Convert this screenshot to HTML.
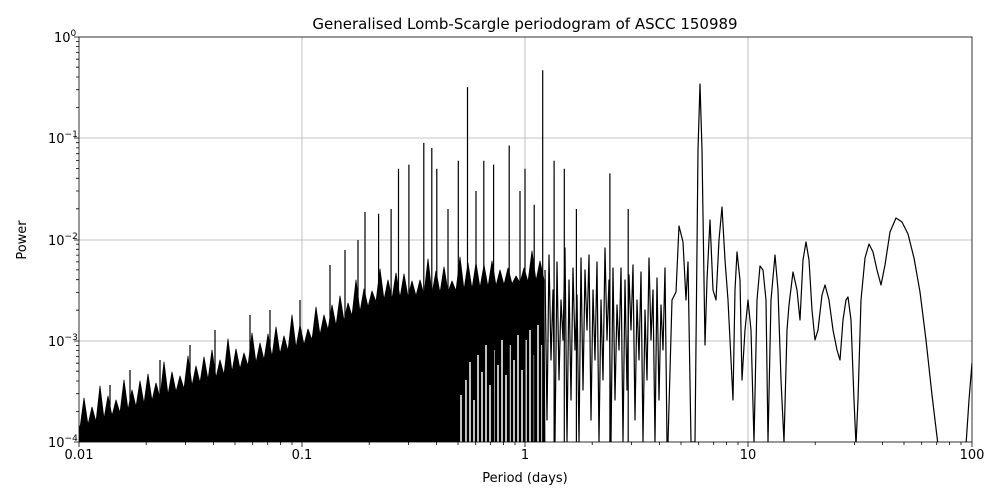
<!DOCTYPE html>
<html><head><meta charset="utf-8"><style>
body{margin:0;background:#fff;}
svg{display:block;font-family:"DejaVu Sans","Liberation Sans",sans-serif;}
</style></head><body>
<svg width="1000" height="500" viewBox="0 0 1000 500" xmlns="http://www.w3.org/2000/svg">
<defs><clipPath id="c"><rect x="79" y="37" width="893" height="405"/></clipPath></defs>
<rect width="1000" height="500" fill="#fff"/>
<g stroke="#b0b0b0" stroke-width="0.8">
<line x1="302" y1="37" x2="302" y2="442"/><line x1="525" y1="37" x2="525" y2="442"/><line x1="748" y1="37" x2="748" y2="442"/>
<line x1="79" y1="138" x2="972" y2="138"/><line x1="79" y1="240" x2="972" y2="240"/><line x1="79" y1="341" x2="972" y2="341"/>
</g>
<g clip-path="url(#c)" stroke="#000" stroke-width="1.2" stroke-linejoin="round">
<polygon fill="#000" stroke-width="0.8" points="79,442 79,425 80,428 84,398 88,425 92,407 96,422 100,386 104,419 108,396 112,416 116,400 120,413 124,380 128,410 132,390 136,407 140,381 144,404 148,374 152,401 156,383 160,398 164,362 168,395 172,372 176,392 180,376 184,389 188,356 192,386 196,366 200,383 204,357 208,380 212,350 216,378 220,360 224,375 228,339 232,372 236,349 240,369 244,353 248,366 252,333 256,363 260,343 264,360 268,334 272,357 276,327 280,354 284,336 288,351 292,315 296,348 300,325 304,345 308,329 312,340 316,307 320,335 324,315 328,330 332,305 336,326 340,296 344,321 348,303 352,316 356,280 360,312 364,289 368,307 372,291 376,302 380,269 384,300 388,280 392,299 396,273 400,298 404,274 408,297 412,281 416,296 420,280 424,295 428,259 432,294 436,271 440,293 444,267 448,292 452,281 456,291 460,257 464,290 468,263 472,289 476,263 480,288 484,265 488,287 492,261 496,286 500,270 504,285 508,268 512,284 516,276 520,283 524,268 528,282 532,251 536,281 540,261 544,280 545,442"/>
<path fill="none" stroke="#fff" stroke-width="1.5" d="M461 442V395M466 442V380M470 442V362M474 442V400M478 442V355M482 442V372M486 442V345M490 442V385M494 442V350M498 442V365M502 442V340M506 442V375M510 442V345M514 442V360M518 442V335M522 442V370M526 442V340M530 442V330M534 442V355M538 442V325M542 442V345"/>
<polyline fill="none" points="545,270 547,420 549,255 551,360 553,290 555,442 557,262 559,380 561,300 563,340 565,248 567,442 569,280 571,400 573,268 575,350 577,295 579,442 581,258 583,390 585,270 587,330 589,255 591,420 593,290 595,360 597,262 599,442 601,300 603,380 605,248 607,340 609,280 611,442 613,268 615,400 617,305 619,350 621,268 623,442 625,280 627,390 629,275 631,330 633,265 635,420 637,300 639,360 641,272 643,442 645,310 647,380 649,258 651,340 653,290 655,442 657,278 659,400 661,305 663,350 665,268 667,442"/>
<path fill="none" d="M378.6 442V213.7M391.1 442V209M398.5 442V168.7M408.9 442V164.6M423.8 442V142.9M431.8 442V148M436.8 442V168.7M448 442V209M458.3 442V160.7M467.5 442V87.1M476 442V191M483.8 442V160.7M493.6 442V164.6M509.2 442V145.5M520 442V191M525 442V168.7M534.2 442V204.8M542.7 442V70.2M554.1 442V160.7M564.3 442V168.7M576.4 442V209M609.9 442V173.4M628.2 442V209M330 442V265M345 442V250M358 442V240M365 442V212M300 442V300M270 442V310M250 442V315M215 442V330M190 442V345M160 442V360M130 442V370M110 442V385"/>
<polyline fill="none" points="668,442 672,300 676,292 679,226 683,242 686,300 688,262 691,442 695,442 698,150 700,84 702,150 705,345 707,280 710,220 713,290 716,300 719,240 722,207 725,260 728,300 731,360 733,400 735,290 737,252 740,280 742,380 745,330 748,300 751,330 754,442 757,300 760,266 763,270 766,300 768,442 771,300 775,255 778,290 781,380 784,442 787,330 789,305 793,272 797,290 800,320 803,260 806,242 809,260 812,310 815,340 818,330 822,295 825,285 829,300 833,330 837,350 840,360 843,320 846,300 848,297 851,320 854,400 856,445 858,400 861,300 865,258 869,244 873,252 877,270 881,285 885,265 890,232 896,218 902,222 908,234 914,258 920,292 926,340 932,395 938,445 966,445 969,400 972,363"/>
</g>
<rect x="79" y="37" width="893" height="405" fill="none" stroke="#000" stroke-width="0.8"/>
<g stroke="#000" stroke-width="0.8">
<path d="M79 442v5M302 442v5M525 442v5M748 442v5M972 442v5M146.2 442v3M185.5 442v3M213.4 442v3M235 442v3M252.7 442v3M267.7 442v3M280.6 442v3M292 442v3M369.2 442v3M408.5 442v3M436.4 442v3M458 442v3M475.7 442v3M490.7 442v3M503.6 442v3M515 442v3M592.2 442v3M631.5 442v3M659.4 442v3M681 442v3M698.7 442v3M713.7 442v3M726.6 442v3M738 442v3M815.2 442v3M854.5 442v3M882.4 442v3M904 442v3M921.7 442v3M936.7 442v3M949.6 442v3M961 442v3"/>
<path d="M74 37h5M74 138h5M74 240h5M74 341h5M74 442h5M76 411.5h3M76 393.7h3M76 381h3M76 371.2h3M76 363.2h3M76 356.4h3M76 350.6h3M76 345.4h3M76 310.2h3M76 292.4h3M76 279.7h3M76 269.9h3M76 261.9h3M76 255.1h3M76 249.3h3M76 244.1h3M76 208.8h3M76 191h3M76 178.3h3M76 168.5h3M76 160.5h3M76 153.7h3M76 147.9h3M76 142.7h3M76 107.5h3M76 89.7h3M76 77h3M76 67.2h3M76 59.2h3M76 52.4h3M76 46.6h3M76 41.4h3"/>
</g>
<g font-size="13" fill="#000">
<text x="79" y="459" text-anchor="middle">0.01</text>
<text x="302" y="459" text-anchor="middle">0.1</text>
<text x="525" y="459" text-anchor="middle">1</text>
<text x="748" y="459" text-anchor="middle">10</text>
<text x="972" y="459" text-anchor="middle">100</text>
<text x="525" y="482" text-anchor="middle">Period (days)</text>
<text x="525" y="29" text-anchor="middle" font-size="15">Generalised Lomb-Scargle periodogram of ASCC 150989</text>
<text transform="translate(26,240) rotate(-90)" text-anchor="middle">Power</text>
<text x="54" y="42">10<tspan dy="-6" font-size="9">0</tspan></text>
<text x="48" y="143">10<tspan dy="-6" font-size="9">−1</tspan></text>
<text x="48" y="245">10<tspan dy="-6" font-size="9">−2</tspan></text>
<text x="48" y="346">10<tspan dy="-6" font-size="9">−3</tspan></text>
<text x="48" y="447">10<tspan dy="-6" font-size="9">−4</tspan></text>
</g>
</svg>
</body></html>
